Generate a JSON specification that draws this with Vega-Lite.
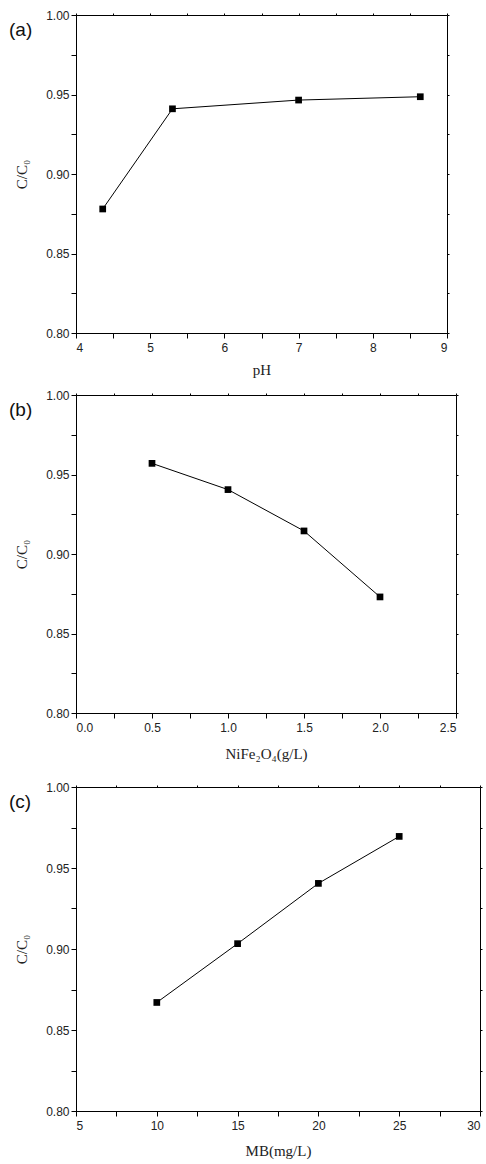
{
  "$schema": "https://vega.github.io/schema/vega-lite/v6.json",
  "padding": {"left": 8, "top": 8, "right": 2, "bottom": 2},
  "spacing": 10,
  "config": {
    "view": {"stroke": "#000", "strokeWidth": 1},
    "axis": {
      "grid": false, "domainColor": "#000", "tickColor": "#000", "tickSize": 5,
      "labelFont": "Liberation Sans", "labelFontSize": 12, "labelColor": "#222",
      "titleFont": "Liberation Serif", "titleFontSize": 15, "titleFontWeight": "normal", "titleColor": "#222"
    },
    "axisX": {"labelPadding": 4},
    "axisY": {"labelPadding": 2},
    "title": {"font": "Liberation Sans", "fontSize": 19, "fontWeight": "normal", "anchor": "start", "frame": "group", "color": "#111", "baseline": "alphabetic"}
  },
  "datasets": {
    "ph": [
      {"x": 4.36, "y": 0.878},
      {"x": 5.30, "y": 0.941},
      {"x": 7.00, "y": 0.9465},
      {"x": 8.64, "y": 0.9486}
    ],
    "dose": [
      {"x": 0.5, "y": 0.957},
      {"x": 1.0, "y": 0.9405},
      {"x": 1.5, "y": 0.9145},
      {"x": 2.0, "y": 0.873}
    ],
    "mb": [
      {"x": 10, "y": 0.867},
      {"x": 15, "y": 0.9033},
      {"x": 20, "y": 0.9405},
      {"x": 25, "y": 0.9695}
    ]
  },
  "vconcat": [
    {
      "width": 371, "height": 318,
      "title": {"text": "(a)", "dx": -67, "offset": -31},
      "data": {"name": "ph"},
      "resolve": {"axis": {"x": "independent", "y": "independent"}},
      "layer": [
        {
          "mark": {"type": "line", "color": "#000", "strokeWidth": 1},
          "encoding": {
            "x": {"field": "x", "type": "quantitative", "scale": {"domain": [4, 9], "nice": false, "zero": false},
              "axis": {"title": "pH", "values": [4, 4.5, 5, 5.5, 6, 6.5, 7, 7.5, 8, 8.5, 9], "labelExpr": "datum.value % 1 == 0 ? datum.value : ''", "titlePadding": 9}},
            "y": {"field": "y", "type": "quantitative", "scale": {"domain": [0.8, 1.0], "nice": false, "zero": false},
              "axis": {"title": "C/C₀", "values": [0.8, 0.825, 0.85, 0.875, 0.9, 0.925, 0.95, 0.975, 1.0], "labelExpr": "abs(datum.value*20 - round(datum.value*20)) < 0.001 ? format(datum.value, '.2f') : ''", "titlePadding": 16}}
          }
        },
        {
          "mark": {"type": "point", "shape": "square", "filled": true, "color": "#000", "size": 45, "opacity": 1},
          "encoding": {
            "x": {"field": "x", "type": "quantitative", "axis": {"orient": "top", "title": null, "labels": false, "domain": false, "tickSize": 2, "values": [4, 4.5, 5, 5.5, 6, 6.5, 7, 7.5, 8, 8.5, 9]}},
            "y": {"field": "y", "type": "quantitative", "axis": {"orient": "right", "title": null, "labels": false, "domain": false, "tickSize": 2, "values": [0.8, 0.825, 0.85, 0.875, 0.9, 0.925, 0.95, 0.975, 1.0]}}
          }
        }
      ]
    },
    {
      "width": 380, "height": 318,
      "title": {"text": "(b)", "dx": -67, "offset": -31},
      "data": {"name": "dose"},
      "resolve": {"axis": {"x": "independent", "y": "independent"}},
      "layer": [
        {
          "mark": {"type": "line", "color": "#000", "strokeWidth": 1},
          "encoding": {
            "x": {"field": "x", "type": "quantitative", "scale": {"domain": [0, 2.5], "nice": false, "zero": false},
              "axis": {"title": ["NiFe₂O₄(g/L)", ""], "titleLineHeight": 8, "values": [0, 0.25, 0.5, 0.75, 1, 1.25, 1.5, 1.75, 2, 2.25, 2.5], "labelExpr": "(datum.value*2) % 1 == 0 ? format(datum.value, '.1f') : ''", "titlePadding": 13}},
            "y": {"field": "y", "type": "quantitative", "scale": {"domain": [0.8, 1.0], "nice": false, "zero": false},
              "axis": {"title": "C/C₀", "values": [0.8, 0.825, 0.85, 0.875, 0.9, 0.925, 0.95, 0.975, 1.0], "labelExpr": "abs(datum.value*20 - round(datum.value*20)) < 0.001 ? format(datum.value, '.2f') : ''", "titlePadding": 16}}
          }
        },
        {
          "mark": {"type": "point", "shape": "square", "filled": true, "color": "#000", "size": 45, "opacity": 1},
          "encoding": {
            "x": {"field": "x", "type": "quantitative", "axis": {"orient": "top", "title": null, "labels": false, "domain": false, "tickSize": 2, "values": [0, 0.25, 0.5, 0.75, 1, 1.25, 1.5, 1.75, 2, 2.25, 2.5]}},
            "y": {"field": "y", "type": "quantitative", "axis": {"orient": "right", "title": null, "labels": false, "domain": false, "tickSize": 2, "values": [0.8, 0.825, 0.85, 0.875, 0.9, 0.925, 0.95, 0.975, 1.0]}}
          }
        }
      ]
    },
    {
      "width": 404, "height": 324,
      "title": {"text": "(c)", "dx": -67, "offset": -31},
      "data": {"name": "mb"},
      "resolve": {"axis": {"x": "independent", "y": "independent"}},
      "layer": [
        {
          "mark": {"type": "line", "color": "#000", "strokeWidth": 1},
          "encoding": {
            "x": {"field": "x", "type": "quantitative", "scale": {"domain": [5, 30], "nice": false, "zero": false},
              "axis": {"title": "MB(mg/L)", "values": [5, 7.5, 10, 12.5, 15, 17.5, 20, 22.5, 25, 27.5, 30], "labelExpr": "datum.value % 5 == 0 ? datum.value : ''", "titlePadding": 12}},
            "y": {"field": "y", "type": "quantitative", "scale": {"domain": [0.8, 1.0], "nice": false, "zero": false},
              "axis": {"title": "C/C₀", "values": [0.8, 0.825, 0.85, 0.875, 0.9, 0.925, 0.95, 0.975, 1.0], "labelExpr": "abs(datum.value*20 - round(datum.value*20)) < 0.001 ? format(datum.value, '.2f') : ''", "titlePadding": 16}}
          }
        },
        {
          "mark": {"type": "point", "shape": "square", "filled": true, "color": "#000", "size": 45, "opacity": 1},
          "encoding": {
            "x": {"field": "x", "type": "quantitative", "axis": {"orient": "top", "title": null, "labels": false, "domain": false, "tickSize": 2, "values": [5, 7.5, 10, 12.5, 15, 17.5, 20, 22.5, 25, 27.5, 30]}},
            "y": {"field": "y", "type": "quantitative", "axis": {"orient": "right", "title": null, "labels": false, "domain": false, "tickSize": 2, "values": [0.8, 0.825, 0.85, 0.875, 0.9, 0.925, 0.95, 0.975, 1.0]}}
          }
        }
      ]
    }
  ]
}
